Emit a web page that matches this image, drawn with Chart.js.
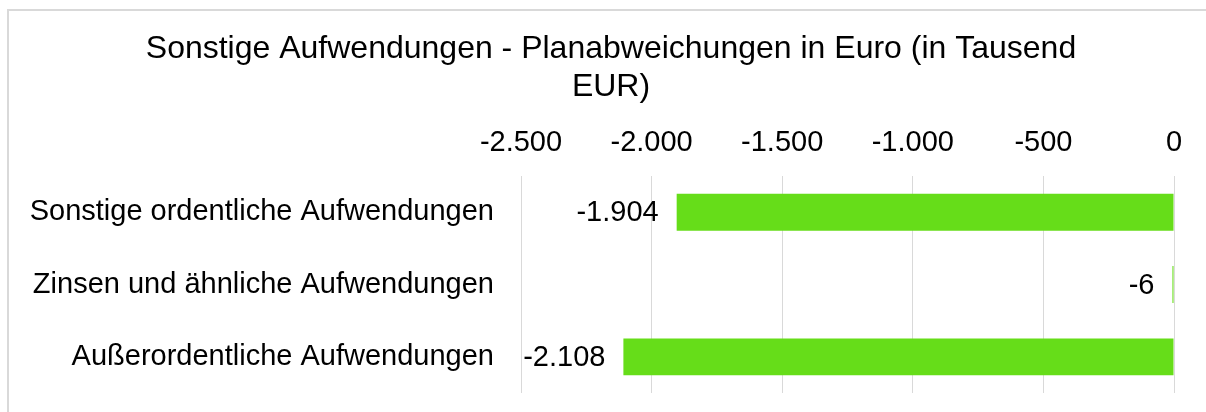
<!DOCTYPE html>
<html>
<head>
<meta charset="utf-8">
<script src="https://cdn.jsdelivr.net/npm/chart.js@4.4.1/dist/chart.umd.min.js"></script>
<style>
  body { margin: 0; background: #fff; }
  #wrap { position: relative; width: 1206px; height: 412px; overflow: hidden; }
  #rahmen { position: absolute; left: 7px; top: 9px; width: 1210px; height: 420px;
            border-left: 2px solid #d9d9d9; border-top: 2px solid #d9d9d9; pointer-events: none; }
  canvas { position: absolute; left: 0; top: 0; }
</style>
</head>
<body>
<div id="wrap">
  <canvas id="miGrafico" width="1206" height="412"></canvas>
  <div id="rahmen"></div>
</div>
<script>
// Daten
var kategorien = ['Sonstige ordentliche Aufwendungen', 'Zinsen und ähnliche Aufwendungen', 'Außerordentliche Aufwendungen'];
var abweichung = [-1904, -6, -2108];
var titel = ['Sonstige Aufwendungen - Planabweichungen in Euro (in Tausend', 'EUR)'];
var achseMin = -2500;
var achseMax = 0;
var schritt = 500;

function formatDe(v) {
    var s = Math.abs(Math.round(v)).toString().replace(/\B(?=(\d{3})+(?!\d))/g, '.');
    return (v < 0 ? '-' : '') + s;
}

/*=============================================
=            Datenbeschriftung                =
=============================================*/
var beschriftung = {
    id: 'beschriftung',
    afterDatasetsDraw: function(chart) {
        var ctx = chart.ctx;
        var meta = chart.getDatasetMeta(0);
        ctx.save();
        ctx.font = '29px "Liberation Sans", Arial, sans-serif';
        ctx.fillStyle = '#000';
        ctx.textAlign = 'right';
        ctx.textBaseline = 'middle';
        meta.data.forEach(function(bar, i) {
            var links = Math.min(bar.x, bar.base);
            ctx.fillText(formatDe(abweichung[i]), links - 18, bar.y + 1);
        });
        ctx.restore();
    }
};
/*=====  End of Datenbeschriftung  ======*/

Chart.defaults.font.family = '"Liberation Sans", Arial, sans-serif';
Chart.defaults.color = '#000';

var mostrar = document.getElementById('miGrafico');
var grafico = new Chart(mostrar, {
    type: 'bar',
    data: {
        labels: kategorien,
        datasets: [{
            data: abweichung,
            backgroundColor: '#66dd19',
            borderWidth: 0,
            barPercentage: 0.51,
            categoryPercentage: 1
        }]
    },
    options: {
        indexAxis: 'y',
        responsive: false,
        animation: false,
        devicePixelRatio: 1,
        layout: { padding: { left: 16, right: 0, top: 0, bottom: 19 } },
        plugins: {
            legend: { display: false },
            tooltip: { enabled: false },
            title: {
                display: true,
                text: titel,
                color: '#000',
                font: { size: 32, weight: 'normal', lineHeight: 1.16 },
                padding: { top: 31, bottom: 4 }
            }
        },
        scales: {
            x: {
                position: 'top',
                min: achseMin,
                max: achseMax,
                grid: { color: '#d9d9d9', drawTicks: false, lineWidth: 1 },
                border: { display: false },
                ticks: {
                    stepSize: schritt,
                    padding: 16,
                    font: { size: 29 },
                    color: '#000',
                    callback: function(v) { return formatDe(v); }
                },
                afterFit: function(scale) {
                    scale.paddingRight = 32;
                }
            },
            y: {
                grid: { display: false, drawTicks: false },
                border: { display: false },
                ticks: { padding: 27, font: { size: 29 }, color: '#000' },
                afterFit: function(scale) {
                    scale.width = 521 - 16;
                    scale.paddingTop = 0;
                    scale.paddingBottom = 0;
                }
            }
        }
    },
    plugins: [beschriftung]
});
</script>
</body>
</html>
